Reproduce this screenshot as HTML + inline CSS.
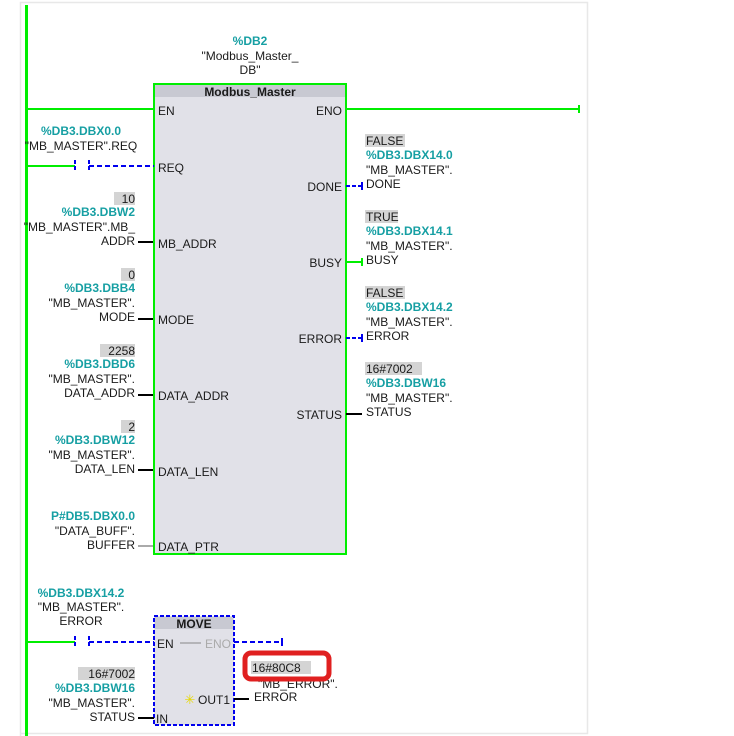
<!DOCTYPE html>
<html><head><meta charset="utf-8"><style>
html,body{margin:0;padding:0;background:#fff;}
svg{display:block;}
text{font-family:"Liberation Sans","DejaVu Sans",sans-serif;font-size:12px;fill:#1a1a1a;}
.t{fill:#169fa3;font-weight:bold;}
.b{font-weight:bold;}
.r{text-anchor:end;}
.c{text-anchor:middle;}
</style></head><body>
<svg width="734" height="736" viewBox="0 0 734 736" xmlns="http://www.w3.org/2000/svg">
<path d="M20.5 736 V2.5 H587.5 V733.5 H20" fill="none" stroke="#e8e8e8" stroke-width="1.5"/>
<rect x="25" y="5" width="3" height="731" fill="#00ee00"/>

<text x="250" y="45" class="t c">%DB2</text>
<text x="250" y="60" class="c">"Modbus_Master_</text>
<text x="250" y="74" class="c">DB"</text>

<rect x="154" y="84" width="192" height="470" fill="#e1e1e8" stroke="#00ee00" stroke-width="2"/>
<rect x="155" y="85" width="190" height="12" fill="#c8c9d2"/>
<text x="250" y="96" class="b c">Modbus_Master</text>

<line x1="27" y1="109" x2="154" y2="109" stroke="#00ee00" stroke-width="2"/>
<text x="158" y="115">EN</text>
<text x="342" y="115" class="r">ENO</text>
<line x1="346" y1="109" x2="579" y2="109" stroke="#00ee00" stroke-width="2"/>
<line x1="579" y1="105" x2="579" y2="113" stroke="#00ee00" stroke-width="2"/>

<text x="81" y="135" class="t c">%DB3.DBX0.0</text>
<text x="81" y="150" class="c">"MB_MASTER".REQ</text>
<line x1="27" y1="166" x2="75" y2="166" stroke="#00ee00" stroke-width="2"/>
<line x1="75" y1="160" x2="75" y2="172" stroke="#0000ee" stroke-width="2" stroke-dasharray="4,2"/>
<line x1="89" y1="160" x2="89" y2="172" stroke="#0000ee" stroke-width="2" stroke-dasharray="4,2"/>
<line x1="89" y1="166" x2="154" y2="166" stroke="#0000ee" stroke-width="2" stroke-dasharray="5,3"/>
<text x="158" y="172">REQ</text>

<rect x="114" y="192" width="21" height="13" fill="#d4d4d4"/>
<text x="135" y="203" class="r">10</text>
<text x="135" y="216" class="t r">%DB3.DBW2</text>
<text x="135" y="231" class="r">"MB_MASTER".MB_</text>
<text x="135" y="245" class="r">ADDR</text>
<line x1="138" y1="242" x2="153" y2="242" stroke="#000" stroke-width="2"/>
<text x="158" y="248">MB_ADDR</text>

<rect x="121" y="268" width="14" height="13" fill="#d4d4d4"/>
<text x="135" y="279" class="r">0</text>
<text x="135" y="292" class="t r">%DB3.DBB4</text>
<text x="135" y="307" class="r">"MB_MASTER".</text>
<text x="135" y="321" class="r">MODE</text>
<line x1="138" y1="319" x2="153" y2="319" stroke="#000" stroke-width="2"/>
<text x="158" y="324">MODE</text>

<rect x="100" y="344" width="35" height="13" fill="#d4d4d4"/>
<text x="135" y="355" class="r">2258</text>
<text x="135" y="368" class="t r">%DB3.DBD6</text>
<text x="135" y="383" class="r">"MB_MASTER".</text>
<text x="135" y="397" class="r">DATA_ADDR</text>
<line x1="138" y1="395" x2="153" y2="395" stroke="#000" stroke-width="2"/>
<text x="158" y="400">DATA_ADDR</text>

<rect x="121" y="420" width="14" height="13" fill="#d4d4d4"/>
<text x="135" y="431" class="r">2</text>
<text x="135" y="444" class="t r">%DB3.DBW12</text>
<text x="135" y="459" class="r">"MB_MASTER".</text>
<text x="135" y="473" class="r">DATA_LEN</text>
<line x1="138" y1="470" x2="153" y2="470" stroke="#000" stroke-width="2"/>
<text x="158" y="476">DATA_LEN</text>

<text x="135" y="520" class="t r">P#DB5.DBX0.0</text>
<text x="135" y="535" class="r">"DATA_BUFF".</text>
<text x="135" y="549" class="r">BUFFER</text>
<line x1="138" y1="546" x2="153" y2="546" stroke="#aaa" stroke-width="2"/>
<text x="158" y="551">DATA_PTR</text>

<rect x="365" y="134" width="40" height="13" fill="#d4d4d4"/>
<text x="366" y="145">FALSE</text>
<text x="366" y="159" class="t">%DB3.DBX14.0</text>
<text x="366" y="174">"MB_MASTER".</text>
<text x="366" y="188">DONE</text>
<text x="342" y="191" class="r">DONE</text>
<line x1="346" y1="186" x2="362" y2="186" stroke="#0000ee" stroke-width="2" stroke-dasharray="4,2"/>
<line x1="362" y1="182" x2="362" y2="190" stroke="#0000ee" stroke-width="2"/>

<rect x="365" y="210" width="33" height="13" fill="#d4d4d4"/>
<text x="366" y="221">TRUE</text>
<text x="366" y="235" class="t">%DB3.DBX14.1</text>
<text x="366" y="250">"MB_MASTER".</text>
<text x="366" y="264">BUSY</text>
<text x="342" y="267" class="r">BUSY</text>
<line x1="346" y1="262" x2="362" y2="262" stroke="#00ee00" stroke-width="2"/>
<line x1="362" y1="258" x2="362" y2="266" stroke="#00ee00" stroke-width="2"/>

<rect x="365" y="286" width="40" height="13" fill="#d4d4d4"/>
<text x="366" y="297">FALSE</text>
<text x="366" y="311" class="t">%DB3.DBX14.2</text>
<text x="366" y="326">"MB_MASTER".</text>
<text x="366" y="340">ERROR</text>
<text x="342" y="343" class="r">ERROR</text>
<line x1="346" y1="338" x2="362" y2="338" stroke="#0000ee" stroke-width="2" stroke-dasharray="4,2"/>
<line x1="362" y1="334" x2="362" y2="342" stroke="#0000ee" stroke-width="2"/>

<rect x="365" y="362" width="57" height="13" fill="#d4d4d4"/>
<text x="366" y="373">16#7002</text>
<text x="366" y="387" class="t">%DB3.DBW16</text>
<text x="366" y="402">"MB_MASTER".</text>
<text x="366" y="416">STATUS</text>
<text x="342" y="419" class="r">STATUS</text>
<line x1="346" y1="414" x2="362" y2="414" stroke="#000" stroke-width="2"/>

<text x="81" y="597" class="t c">%DB3.DBX14.2</text>
<text x="81" y="611" class="c">"MB_MASTER".</text>
<text x="81" y="625" class="c">ERROR</text>
<line x1="27" y1="642" x2="75" y2="642" stroke="#00ee00" stroke-width="2"/>
<line x1="75" y1="636" x2="75" y2="648" stroke="#0000ee" stroke-width="2" stroke-dasharray="4,2"/>
<line x1="89" y1="636" x2="89" y2="648" stroke="#0000ee" stroke-width="2" stroke-dasharray="4,2"/>
<line x1="89" y1="642" x2="154" y2="642" stroke="#0000ee" stroke-width="2" stroke-dasharray="5,3"/>

<rect x="154" y="616" width="80" height="109" fill="#e1e1e8" stroke="#0000ee" stroke-width="2" stroke-dasharray="4,2"/>
<rect x="155" y="617" width="78" height="12" fill="#c8c9d2"/>
<text x="194" y="628" class="b c">MOVE</text>
<text x="157" y="648">EN</text>
<line x1="180" y1="643" x2="201" y2="643" stroke="#888" stroke-width="1"/>
<text x="231" y="648" class="r" style="fill:#aaa">ENO</text>
<line x1="234" y1="642" x2="282" y2="642" stroke="#0000ee" stroke-width="2" stroke-dasharray="5,3"/>
<line x1="282" y1="638" x2="282" y2="646" stroke="#0000ee" stroke-width="2"/>

<rect x="78" y="667" width="57" height="13" fill="#d4d4d4"/>
<text x="135" y="678" class="r">16#7002</text>
<text x="135" y="692" class="t r">%DB3.DBW16</text>
<text x="135" y="707" class="r">"MB_MASTER".</text>
<text x="135" y="721" class="r">STATUS</text>
<line x1="138" y1="718" x2="154" y2="718" stroke="#000" stroke-width="2"/>
<text x="156" y="723">IN</text>

<text x="190" y="704" class="c" style="fill:#e6d800;font-size:13px">✳</text>
<text x="230" y="704" class="r">OUT1</text>
<line x1="234" y1="699" x2="249" y2="699" stroke="#000" stroke-width="2"/>
<text x="258" y="688">"MB_ERROR".</text>
<text x="254" y="701">ERROR</text>
<rect x="245" y="653" width="84" height="26" rx="6" fill="#fff" stroke="#e02020" stroke-width="5"/>
<rect x="251" y="661" width="60" height="13" fill="#d4d4d4"/>
<text x="252" y="672">16#80C8</text>
</svg>
</body></html>
